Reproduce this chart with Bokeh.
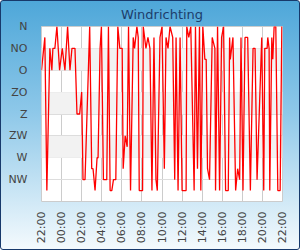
import math
from bokeh.plotting import figure
from bokeh.models import Range1d, FixedTicker, BoxAnnotation
from bokeh.embed import file_html
from bokeh.resources import INLINE

# minutes after 22:00 and wind direction in degrees
minutes = [0, 20, 32, 50, 62, 68, 80, 92, 108, 124, 140, 156, 170, 182, 200, 212, 228, 240, 248, 260,
           288, 300, 308, 320, 332, 338, 350, 358, 370, 390, 400, 410, 420, 430, 444, 456, 468, 482,
           488, 500, 512, 520, 532, 548, 556, 570, 578, 584, 604, 608, 624, 636, 648, 660, 672, 684,
           692, 708, 720, 734, 744, 756, 768, 784, 796, 804, 816, 828, 840, 864, 868, 880, 892, 912,
           920, 932, 944, 952, 964, 976, 984, 992, 1004, 1020, 1036, 1040, 1052, 1064, 1076, 1088,
           1100, 1116, 1124, 1128, 1144, 1160, 1172, 1184, 1192, 1204, 1216, 1232, 1248, 1264, 1276,
           1288, 1316, 1328, 1334, 1348, 1352, 1360, 1364, 1376, 1382, 1390, 1400, 1412, 1426, 1436, 1440]
direction = [90, 22.5, 337.5, 45, 90, 45, 45, 0, 90, 45, 90, 0, 90, 45, 45, 180, 180, 135, 315, 315,
             0, 292.5, 292.5, 337.5, 270, 270, 45, 0, 315, 315, 0, 337.5, 337.5, 315, 315, 0, 45, 45,
             292.5, 225, 247.5, 0, 337.5, 22.5, 45, 0, 22.5, 337.5, 337.5, 0, 45, 22.5, 45, 337.5, 22.5, 315,
             337.5, 22.5, 0, 292.5, 22.5, 45, 0, 22.5, 315, 22.5, 337.5, 22.5, 337.5, 337.5, 0, 22.5, 0, 337.5,
             0, 292.5, 0, 337.5, 0, 67.5, 67.5, 292.5, 315, 22.5, 45, 337.5, 0, 337.5, 22.5, 0,
             337.5, 337.5, 22.5, 67.5, 22.5, 337.5, 292.5, 315, 22.5, 337.5, 22.5, 22.5, 337.5, 45, 45,
             315, 22.5, 337.5, 45, 45, 22.5, 45, 337.5, 22.5, 67.5, 0, 0, 337.5, 337.5, 0, 0]

dir_ticks = [0, 45, 90, 135, 180, 225, 270, 315]
dir_labels = ["N", "NO", "O", "ZO", "Z", "ZW", "W", "NW"]
hour_ticks = [0, 2, 4, 6, 8, 10, 12, 14, 16, 18, 20, 22, 24]
hour_labels = ["22:00", "00:00", "02:00", "04:00", "06:00", "08:00", "10:00",
               "12:00", "14:00", "16:00", "18:00", "20:00", "22:00"]

hours = [m / 60 for m in minutes]

p = figure(width=300, height=250, output_backend="svg", toolbar_location=None,
           x_range=Range1d(0, 24), y_range=Range1d(360, 0),
           title="Windrichting",
           min_border_left=40, min_border_right=19, min_border_top=25, min_border_bottom=50)

p.border_fill_color = None
p.background_fill_color = "white"
p.outline_line_color = "#cccccc"
p.styles = {"background-image": "linear-gradient(to bottom, #4ea7d9 0%, #8ec8e9 45%, #f4fafd 100%)",
            "box-sizing": "border-box", "border": "1px solid #17396b", "border-radius": "3px"}

p.title.align = "center"
p.title.vertical_align = "top"
p.title.text_font = "DejaVu Sans"
p.title.text_font_size = "13px"
p.title.text_font_style = "normal"
p.title.text_color = "#1d3d6b"
p.title.standoff = 5

# alternating bands between every other pair of direction ticks
for lo, hi in zip(dir_ticks[1::2], dir_ticks[2::2]):
    p.add_layout(BoxAnnotation(bottom=lo, top=hi, fill_color="#f2f2f2", fill_alpha=1.0,
                               line_color=None, level="underlay"))

p.line(hours, direction, line_color="#ff0000", line_width=1.3)

p.yaxis.ticker = FixedTicker(ticks=dir_ticks)
p.yaxis.major_label_overrides = {t: l for t, l in zip(dir_ticks, dir_labels)}
p.xaxis.ticker = FixedTicker(ticks=hour_ticks)
p.xaxis.major_label_overrides = {t: l for t, l in zip(hour_ticks, hour_labels)}
p.xaxis.major_label_orientation = math.pi / 2

for ax in (p.xaxis, p.yaxis):
    ax.axis_line_color = None
    ax.major_tick_line_color = None
    ax.minor_tick_line_color = None
    ax.major_label_text_font = "DejaVu Sans"
    ax.major_label_text_font_size = "11px"
    ax.major_label_text_color = "#444444"
p.yaxis.major_label_standoff = 8
p.xaxis.major_label_standoff = 4

p.xgrid.grid_line_color = "#cccccc"
p.ygrid.grid_line_color = "#dddddd"
p.xgrid.level = "underlay"
p.ygrid.level = "underlay"

open("out.html", "w").write(file_html(p, INLINE))
